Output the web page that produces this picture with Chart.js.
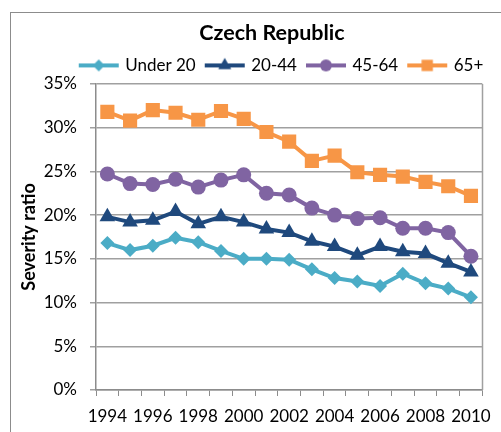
<!DOCTYPE html>
<html><head><meta charset="utf-8">
<script src="https://cdn.jsdelivr.net/npm/chart.js@4/dist/chart.umd.min.js"></script>
<style>html,body{margin:0;padding:0;background:#fff;overflow:hidden}#wrap{width:501px;height:432px;position:relative}</style>
</head><body><div id="wrap"><canvas id="c" width="501" height="432"></canvas></div>
<script>
const years = ['1994','1995','1996','1997','1998','1999','2000','2001','2002','2003','2004','2005','2006','2007','2008','2009','2010'];
const under20  = [16.8,16.0,16.5,17.4,16.9,15.9,15.0,15.0,14.9,13.8,12.8,12.4,11.9,13.3,12.2,11.6,10.6];
const age20_44 = [19.8,19.2,19.4,20.4,19.0,19.8,19.2,18.4,18.0,17.0,16.4,15.4,16.4,15.8,15.6,14.5,13.5];
const age45_64 = [24.7,23.6,23.5,24.1,23.2,24.0,24.6,22.5,22.3,20.8,20.0,19.6,19.7,18.5,18.5,18.0,15.3];
const age65plus = [31.8,30.8,32.0,31.7,30.9,31.9,31.0,29.5,28.4,26.2,26.8,24.9,24.6,24.4,23.8,23.3,22.2];
const seriesNames = ['Under 20','20-44','45-64','65+'];
const yTickValues = [0,5,10,15,20,25,30,35];

const colors = ['#4BACC6','#1F497D','#8064A2','#F79646'];
const styles = ['rectRot','triangle','circle','rect'];
const radii = [7,9,7.5,10];
const legendR = [6,7.5,6,8];

function legendIcon(color, style, r){
  const c = document.createElement('canvas'); c.width = 42; c.height = 20;
  const g = c.getContext('2d');
  g.strokeStyle = color; g.lineWidth = 4;
  g.beginPath(); g.moveTo(1,10); g.lineTo(41,10); g.stroke();
  g.fillStyle = color; g.beginPath();
  const x = 21, y = 10;
  if (style === 'rectRot'){ g.moveTo(x-r,y); g.lineTo(x,y-r); g.lineTo(x+r,y); g.lineTo(x,y+r); g.closePath(); }
  else if (style === 'triangle'){ g.moveTo(x, y-r); g.lineTo(x+r*0.866, y+r*0.5); g.lineTo(x-r*0.866, y+r*0.5); g.closePath(); }
  else if (style === 'circle'){ g.arc(x,y,r,0,Math.PI*2); }
  else { const s = r*0.7071; g.rect(x-s,y-s,2*s,2*s); }
  g.fill();
  return c;
}
const icons = colors.map((c,i)=>legendIcon(c, styles[i], legendR[i]));

const seriesData = [under20, age20_44, age45_64, age65plus];
const datasets = seriesData.map((d,i)=>({
  label: seriesNames[i], data: d,
  borderColor: colors[i], backgroundColor: colors[i],
  borderWidth: 4, pointStyle: styles[i], pointRadius: radii[i],
  pointBackgroundColor: colors[i], pointBorderColor: colors[i], pointBorderWidth: 0,
  tension: 0, fill: false
}));

const frame = {
  id: 'frame',
  beforeDraw(chart){
    const ctx = chart.ctx; ctx.save();
    ctx.strokeStyle = '#8c8c8c'; ctx.lineWidth = 1;
    ctx.strokeRect(10.5, 12.5, 600, 600);
    ctx.restore();
  },
  beforeDatasetsDraw(chart){
    const a = chart.chartArea, ctx = chart.ctx; ctx.save();
    ctx.strokeStyle = '#a0a0a0'; ctx.lineWidth = 1.5;
    ctx.beginPath(); ctx.moveTo(Math.round(a.right)+0.5, a.top); ctx.lineTo(Math.round(a.right)+0.5, a.bottom); ctx.stroke();
    ctx.restore();
  },
  afterLayout(chart){
    const t = chart.titleBlock; if (t) { t.right = 530; t.left = 2*272 - t.right; }
    const l = chart.legend; if (l) { l.right = 540; l.left = 2*282 - l.right; }
  }
};

Chart.defaults.font.family = 'Lato, "Open Sans", sans-serif';
Chart.defaults.color = '#000';

new Chart(document.getElementById('c'), {
  type: 'line',
  data: { labels: years, datasets },
  plugins: [frame],
  options: {
    responsive: false, animation: false,
    layout: { padding: { left: 18, right: 11, top: 0, bottom: 0 } },
    plugins: {
      tooltip: { enabled: false },
      title: { display: true, text: 'Czech Republic', color: '#000',
        font: { size: 21.5, weight: 'bold' }, padding: { top: 20.1, bottom: 0 } },
      legend: { display: true, position: 'top',
        labels: { usePointStyle: true, pointStyleWidth: 36, boxHeight: 16, padding: 11, color: '#000',
          font: { size: 17 },
          generateLabels(chart){
            const items = Chart.defaults.plugins.legend.labels.generateLabels(chart);
            items.forEach((it,i)=>{ it.pointStyle = icons[i]; it.lineWidth = 0; });
            return items;
          } } }
    },
    scales: {
      x: { type: 'category', offset: true,
        grid: { offset: true, drawOnChartArea: false, drawTicks: true, tickLength: 6, color: '#8c8c8c', lineWidth: 1 },
        border: { color: '#8c8c8c', width: 1.5 },
        ticks: { autoSkip: false, maxRotation: 0, minRotation: 0, padding: 10, font: { size: 17 }, color: '#000',
          callback: (v,i) => (i % 2 === 0 ? years[i] : '') },
        afterFit: s => { s.height = 42; }
      },
      y: { min: 0, max: 35,
        afterBuildTicks: s => { s.ticks = yTickValues.map(v => ({ value: v })); },
        grid: { color: '#a0a0a0', lineWidth: 1.5, tickLength: 6, drawTicks: true },
        border: { color: '#8c8c8c', width: 1.5 },
        ticks: { padding: 13, font: { size: 17 }, color: '#000', callback: v => v + '%' },
        title: { display: true, text: 'Severity ratio', color: '#000', font: { size: 18, weight: 'bold' }, padding: { top: 0, bottom: 0 } },
        afterFit: s => { s.width = 78; }
      }
    }
  }
});
</script>
</body></html>
